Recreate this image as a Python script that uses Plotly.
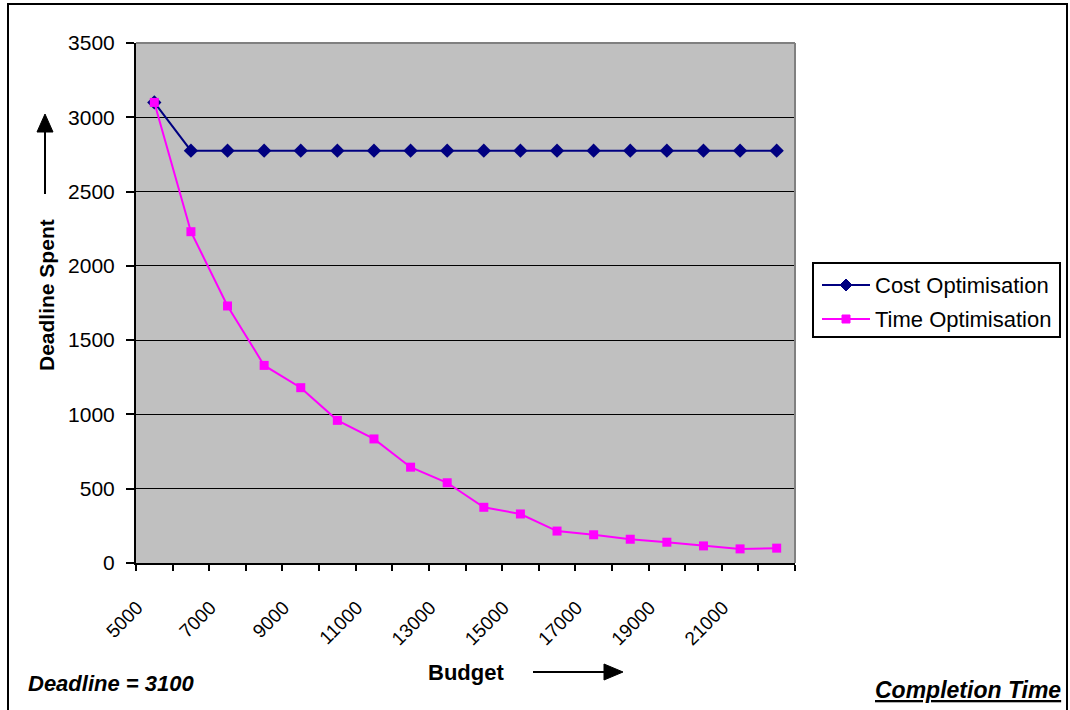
import plotly.graph_objects as go

# Budget levels (x) and deadline spent (y) for the two scheduling strategies
budget = [5000, 6000, 7000, 8000, 9000, 10000, 11000, 12000, 13000,
          14000, 15000, 16000, 17000, 18000, 19000, 20000, 21000, 22000]
cost_opt = [3100, 2775, 2775, 2775, 2775, 2775, 2775, 2775, 2775,
            2775, 2775, 2775, 2775, 2775, 2775, 2775, 2775, 2775]
time_opt = [3100, 2230, 1730, 1330, 1180, 960, 835, 645, 540,
            375, 330, 215, 190, 160, 140, 115, 95, 100]
x_tick_labels = [5000, 7000, 9000, 11000, 13000, 15000, 17000, 19000, 21000]
y_ticks = [0, 500, 1000, 1500, 2000, 2500, 3000, 3500]

W, H = 1070, 710
L, R, T, B = 136, 795, 43, 563  # plot area in pixels
FONT = "Liberation Sans, Arial, sans-serif"
NAVY = "#000080"
MAGENTA = "#FF00FF"


def px(x):
    return (x - L) / (R - L)


def py(y):
    return (B - y) / (B - T)


fig = go.Figure()
fig.add_trace(go.Scatter(
    x=budget, y=cost_opt, mode="lines+markers", name="Cost Optimisation",
    line=dict(color=NAVY, width=2),
    marker=dict(symbol="diamond", size=11, color=NAVY, line=dict(width=0)),
))
fig.add_trace(go.Scatter(
    x=budget, y=time_opt, mode="lines+markers", name="Time Optimisation",
    line=dict(color=MAGENTA, width=2),
    marker=dict(symbol="square", size=9, color=MAGENTA, line=dict(width=0)),
))

shapes = []
annotations = []

# outer chart frame
shapes.append(dict(type="rect", xref="paper", yref="paper",
                   x0=px(8), x1=px(1067), y0=py(720), y1=py(4),
                   line=dict(color="black", width=2), layer="below"))
# plot area top/right border
shapes.append(dict(type="line", xref="paper", yref="paper",
                   x0=0, x1=1, y0=1, y1=1, line=dict(color="#808080", width=2)))
shapes.append(dict(type="line", xref="paper", yref="paper",
                   x0=1, x1=1, y0=0, y1=1, line=dict(color="#808080", width=2)))

# y-axis title with upward arrow
annotations.append(dict(text="<b>Deadline Spent</b>", xref="paper", yref="paper",
                        x=px(46), y=py(295), textangle=-90, showarrow=False,
                        font=dict(family=FONT, size=21, color="black"),
                        xanchor="center", yanchor="middle"))
shapes.append(dict(type="line", xref="paper", yref="paper",
                   x0=px(45), x1=px(45), y0=py(194), y1=py(128),
                   line=dict(color="black", width=2)))
shapes.append(dict(type="path", xref="paper", yref="paper",
                   path=f"M {px(45)},{py(114)} L {px(37)},{py(132)} L {px(53)},{py(132)} Z",
                   fillcolor="black", line=dict(color="black", width=1)))

# x-axis title with rightward arrow
annotations.append(dict(text="<b>Budget</b>", xref="paper", yref="paper",
                        x=px(466), y=py(672), showarrow=False,
                        font=dict(family=FONT, size=22, color="black"),
                        xanchor="center", yanchor="middle"))
shapes.append(dict(type="line", xref="paper", yref="paper",
                   x0=px(533), x1=px(610), y0=py(672), y1=py(672),
                   line=dict(color="black", width=2)))
shapes.append(dict(type="path", xref="paper", yref="paper",
                   path=f"M {px(623)},{py(672)} L {px(604)},{py(664)} L {px(604)},{py(680)} Z",
                   fillcolor="black", line=dict(color="black", width=1)))

# footnotes
annotations.append(dict(text="<b><i>Deadline = 3100</i></b>", xref="paper", yref="paper",
                        x=px(26), y=py(683), showarrow=False,
                        font=dict(family=FONT, size=22, color="black"),
                        xanchor="left", yanchor="middle"))
annotations.append(dict(text="<b><i><u>Completion Time</u></i></b>", xref="paper", yref="paper",
                        x=px(1063), y=py(690), showarrow=False,
                        font=dict(family=FONT, size=23, color="black"),
                        xanchor="right", yanchor="middle"))

# legend box
shapes.append(dict(type="rect", xref="paper", yref="paper",
                   x0=px(813), x1=px(1060), y0=py(337), y1=py(263),
                   fillcolor="white", line=dict(color="black", width=2)))
legend_rows = [("Cost Optimisation", NAVY, "diamond", 285),
               ("Time Optimisation", MAGENTA, "square", 319)]
for name, color, sym, yc in legend_rows:
    shapes.append(dict(type="line", xref="paper", yref="paper",
                       x0=px(822), x1=px(870), y0=py(yc), y1=py(yc),
                       line=dict(color=color, width=2)))
    if sym == "diamond":
        path = (f"M {px(846)},{py(yc - 6)} L {px(852)},{py(yc)} "
                f"L {px(846)},{py(yc + 6)} L {px(840)},{py(yc)} Z")
    else:
        path = (f"M {px(842)},{py(yc - 4)} L {px(850)},{py(yc - 4)} "
                f"L {px(850)},{py(yc + 4)} L {px(842)},{py(yc + 4)} Z")
    shapes.append(dict(type="path", xref="paper", yref="paper", path=path,
                       fillcolor=color, line=dict(color=color, width=1)))
    annotations.append(dict(text=name, xref="paper", yref="paper",
                            x=px(873), y=py(yc), showarrow=False,
                            font=dict(family=FONT, size=22, color="black"),
                            xanchor="left", yanchor="middle"))

fig.update_layout(
    width=W, height=H,
    margin=dict(l=L, r=W - R, t=T, b=H - B, pad=0),
    paper_bgcolor="white",
    plot_bgcolor="#C0C0C0",
    showlegend=False,
    font=dict(family=FONT, color="black"),
    shapes=shapes,
    annotations=annotations,
)
fig.update_xaxes(
    range=[4500, 22500],
    tickmode="array", tickvals=x_tick_labels,
    ticktext=[str(v) for v in x_tick_labels],
    tickangle=-45, ticks="", tickfont=dict(family=FONT, size=19, color="black"),
    ticklabelstandoff=24, ticklabelshift=-17,
    showgrid=False, zeroline=False,
    showline=True, linecolor="black", linewidth=2,
    minor=dict(ticks="outside", ticklen=6, tickwidth=2, tickcolor="black",
               tickmode="linear", tick0=4500, dtick=1000, showgrid=False),
)
fig.update_yaxes(
    range=[0, 3500], tickmode="array", tickvals=y_ticks,
    ticks="outside", ticklen=8, tickwidth=2, tickcolor="black",
    ticklabelstandoff=7,
    tickfont=dict(family=FONT, size=21, color="black"),
    showgrid=True, gridcolor="black", gridwidth=1,
    zeroline=False, showline=True, linecolor="black", linewidth=2,
)

fig.write_html("out.html")
